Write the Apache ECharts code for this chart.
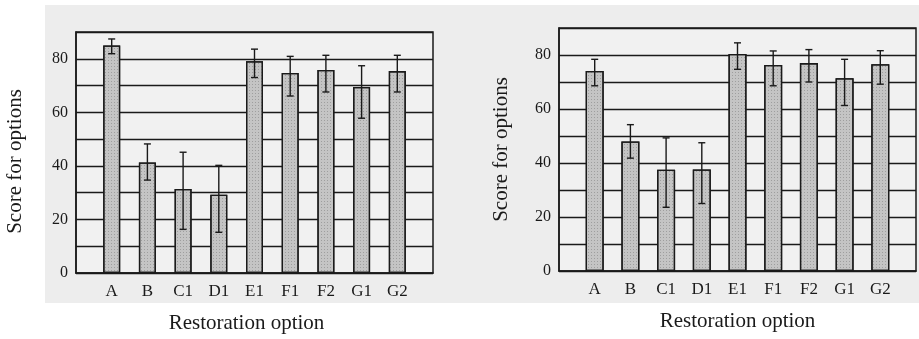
<!DOCTYPE html>
<html>
<head>
<meta charset="utf-8">
<script src="https://cdn.jsdelivr.net/npm/echarts@6/dist/echarts.min.js"></script>
<style>
  html, body { margin: 0; padding: 0; background: #fff; }
  #chart { width: 919px; height: 339px; }
</style>
</head>
<body>
<div id="chart"></div>
<script>
// categories shared by both panels
const categories = ['A', 'B', 'C1', 'D1', 'E1', 'F1', 'F2', 'G1', 'G2'];
const yTicks = [0, 20, 40, 60, 80];

// left panel: mean score and error-bar ends
const leftMean = [85, 41.3, 31.4, 29.2, 79.1, 74.7, 75.8, 69.5, 75.4];
const leftHigh = [87.4, 48.2, 45.1, 40.2, 83.6, 80.9, 81.3, 77.4, 81.3];
const leftLow = [81.9, 34.7, 16.3, 15.2, 73.0, 66.1, 67.6, 57.8, 67.6];

// right panel
const rightMean = [74.1, 48.0, 37.5, 37.6, 80.4, 76.3, 77.0, 71.4, 76.6];
const rightHigh = [78.4, 54.2, 49.3, 47.5, 84.5, 81.5, 82.0, 78.4, 81.6];
const rightLow = [68.6, 41.8, 23.6, 25.0, 74.7, 68.6, 70.0, 61.3, 69.2];

const ink = '#1a1a1a';
const font = 'Liberation Serif';

function xAxisFor (gridIndex, namePad){
    return {
        type: 'value',
        gridIndex: gridIndex,
        min: 0, max: 10, interval: 1,
        name: 'Restoration option',
        nameLocation: 'middle',
        nameGap: 40,
        nameTextStyle: {fontFamily: font, fontSize: 21, color: ink, padding: namePad},
        axisLine: {show: true, lineStyle: {color: ink, width: 1.5}},
        axisTick: {show: false},
        splitLine: {show: false},
        axisLabel: {
            fontFamily: font, fontSize: 17, color: ink, margin: 10,
            formatter: v => categories[v - 1] || ''
        }
    };
}

function yAxisFor (gridIndex, nameGap, namePad){
    return {
        type: 'value',
        gridIndex: gridIndex,
        min: 0, max: 90, interval: 10,
        name: 'Score for options',
        nameLocation: 'middle',
        nameGap: nameGap,
        nameTextStyle: {fontFamily: font, fontSize: 21, color: ink, padding: namePad},
        axisLine: {show: true, lineStyle: {color: ink, width: 1.5}},
        axisTick: {show: false},
        splitLine: {show: true, lineStyle: {color: ink, width: 1.3}},
        axisLabel: {
            fontFamily: font, fontSize: 16, color: ink, margin: 8,
            formatter: v => yTicks.indexOf(v) >= 0 ? String(v) : ''
        }
    };
}

function barSeries (axisIndex, means, width){
    return {
        type: 'bar',
        xAxisIndex: axisIndex,
        yAxisIndex: axisIndex,
        barWidth: width,
        data: means.map((v, i) => [i + 1, v]),
        itemStyle: {
            color: '#c4c4c4',
            borderColor: ink,
            borderWidth: 1.3,
            decal: {
                symbol: 'rect',
                symbolSize: 1,
                color: 'rgba(90,90,90,0.35)',
                dashArrayX: [1, 2],
                dashArrayY: [1, 2],
                rotation: 0
            }
        },
        z: 3
    };
}

function errorSeries (axisIndex, lows, highs){
    return {
        type: 'custom',
        xAxisIndex: axisIndex,
        yAxisIndex: axisIndex,
        data: lows.map((lo, i) => [i + 1, lo, highs[i]]),
        renderItem: function (params, api){
            const top = api.coord([api.value(0), api.value(2)]);
            const bot = api.coord([api.value(0), api.value(1)]);
            const half = 3.5;
            const style = {stroke: ink, lineWidth: 1.4};
            return {
                type: 'group',
                children: [
                    {type: 'line', shape: {x1: top[0], y1: top[1], x2: bot[0], y2: bot[1]}, style: style},
                    {type: 'line', shape: {x1: top[0] - half, y1: top[1], x2: top[0] + half, y2: top[1]}, style: style},
                    {type: 'line', shape: {x1: bot[0] - half, y1: bot[1], x2: bot[0] + half, y2: bot[1]}, style: style}
                ]
            };
        },
        z: 5
    };
}

const chart = echarts.init(document.getElementById('chart'));
chart.setOption({
    animation: false,
    backgroundColor: '#fff',
    graphic: [{
        type: 'rect',
        shape: {x: 45, y: 5, width: 874, height: 298},
        style: {fill: '#ededed'},
        z: -10
    }],
    grid: [
        {left: 76, top: 32, width: 357, height: 242, show: true,
         backgroundColor: '#f1f1f1', borderColor: ink, borderWidth: 1.5},
        {left: 559, top: 28, width: 362, height: 243, show: true,
         backgroundColor: '#f1f1f1', borderColor: ink, borderWidth: 1.5}
    ],
    xAxis: [xAxisFor(0, [0, 16, 0, 0]), xAxisFor(1, [0, 0, 0, 0])],
    yAxis: [yAxisFor(0, 50, [0, 18, 0, 0]), yAxisFor(1, 47, [0, 0, 0, 0])],
    series: [
        barSeries(0, leftMean, 17),
        errorSeries(0, leftLow, leftHigh),
        barSeries(1, rightMean, 18),
        errorSeries(1, rightLow, rightHigh)
    ]
});
</script>
</body>
</html>
